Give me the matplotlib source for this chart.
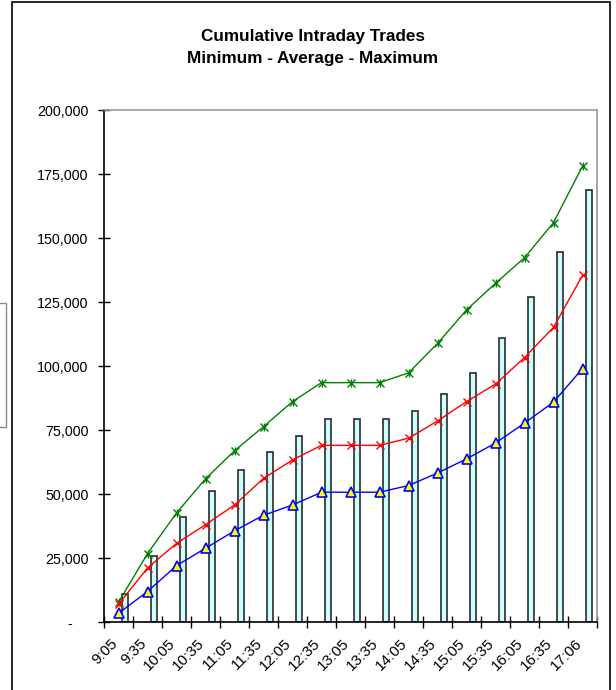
import matplotlib
matplotlib.use("Agg")
import matplotlib.pyplot as plt
from matplotlib.patches import Rectangle
from matplotlib.ticker import FuncFormatter
from matplotlib.transforms import ScaledTranslation
import numpy as np

plt.rcParams["font.family"] = ["Liberation Sans", "DejaVu Sans"]

W, H = 616, 690

TIMES = ["9:05", "9:35", "10:05", "10:35", "11:05", "11:35", "12:05", "12:35",
         "13:05", "13:35", "14:05", "14:35", "15:05", "15:35", "16:05", "16:35",
         "17:06"]
TODAY = [11000, 25800, 41000, 51000, 59400, 66500, 72700, 79400,
         79300, 79300, 82300, 89000, 97200, 111000, 127000, 144400, 168900]
MAXIMUM = [7700, 26700, 42600, 55900, 66900, 76300, 86100, 93500,
           93500, 93500, 97300, 108800, 121900, 132300, 142300, 156000, 178100]
AVERAGE = [6900, 21100, 30700, 38000, 45700, 56100, 63300, 69000,
           69000, 69000, 71800, 78500, 86100, 92900, 103300, 115100, 135400]
MINIMUM = [3400, 11900, 22000, 28800, 35600, 41700, 45700, 50700,
           50700, 50700, 53300, 58200, 63700, 69900, 77700, 85900, 99000]


def yfmt(v, pos):
    if v == 0:
        return "-    "
    return f"{v:,.0f}"


fig = plt.figure(figsize=(W / 100, H / 100), dpi=100)
ax = fig.add_axes([104 / W, 1 - 622 / H, (597 - 104) / W, (622 - 110) / H])

x = np.arange(len(TIMES))

# bars sit to the right of the category centre (second of two bar series)
ax.bar(x + 0.22, TODAY, 0.23, color="#CCFFFF", edgecolor="#2a2a2a",
       linewidth=1.2, zorder=2)

ax.plot(x, MAXIMUM, color="#008000", lw=1.0, marker="x", ms=6, mew=1.0, zorder=3)
ax.plot(x, MAXIMUM, color="#008000", lw=0, marker="|", ms=6, mew=1.0, zorder=3)
ax.plot(x, AVERAGE, color="#FF0000", lw=1.0, marker="x", ms=6, mew=1.0, zorder=4)
ax.plot(x, MINIMUM, color="#0000FF", lw=1.0, marker="^", ms=6.5,
        mfc="#FFFF00", mec="#0000FF", mew=1.2, zorder=5)

ax.set_xlim(-0.5, len(TIMES) - 0.5)
ax.set_ylim(0, 200000)
ax.set_yticks(np.arange(0, 200001, 25000))
ax.yaxis.set_major_formatter(FuncFormatter(yfmt))

ax.set_xticks(np.arange(len(TIMES) + 1) - 0.5)
ax.set_xticklabels([])
ax.set_xticks(x, minor=True)
ax.set_xticklabels(TIMES, minor=True, rotation=45, ha="right", va="center",
                   rotation_mode="anchor")
ax.tick_params(axis="x", which="minor", length=0, pad=14, labelsize=11)
ax.tick_params(axis="x", which="major", direction="inout", length=9, width=1)
ax.tick_params(axis="y", direction="inout", length=8, width=1, pad=7,
               labelsize=10.3)
shift = ScaledTranslation(-3 / 100, 0, fig.dpi_scale_trans)
for lab in ax.get_xticklabels(minor=True):
    lab.set_transform(lab.get_transform() + shift)

for side in ["left", "bottom"]:
    ax.spines[side].set_color("black")
    ax.spines[side].set_linewidth(1.2)
for side in ["top", "right"]:
    ax.spines[side].set_color("#999999")
    ax.spines[side].set_linewidth(1.2)

fig.text(313 / W, 1 - 37 / H, "Cumulative Intraday Trades", ha="center",
         va="center", fontsize=12.3, fontweight="bold")
fig.text(313 / W, 1 - 58 / H, "Minimum - Average - Maximum", ha="center",
         va="center", fontsize=12.3, fontweight="bold")

# outer chart frame and the edge of a neighbouring box
fig.patches.append(Rectangle((12 / W, -0.1), (610 - 12) / W, 1.1 - 2 / H,
                             transform=fig.transFigure, fill=False,
                             edgecolor="black", linewidth=1.2))
fig.patches.append(Rectangle((-5 / W, 1 - 427 / H), 11 / W, 124 / H,
                             transform=fig.transFigure, fill=False,
                             edgecolor="#888888", linewidth=1.0))

fig.savefig("out.png", dpi=100)
